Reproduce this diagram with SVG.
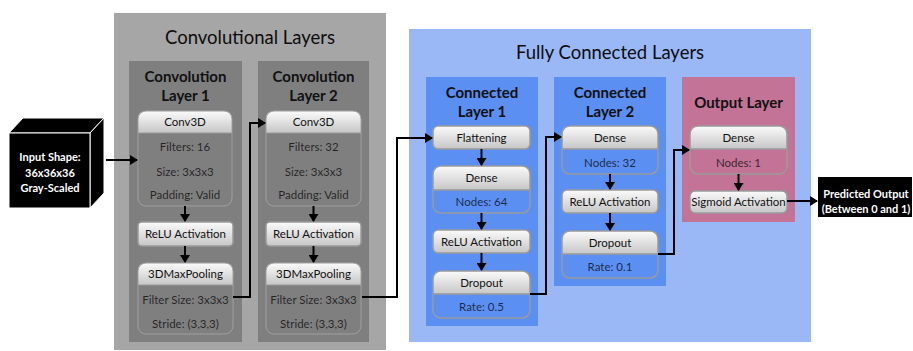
<svg xmlns="http://www.w3.org/2000/svg" width="913" height="351" viewBox="0 0 913 351">
<defs>
<linearGradient id="g" x1="0" y1="0" x2="0" y2="1">
<stop offset="0" stop-color="#fbfbfb"/>
<stop offset="1" stop-color="#c6c6c6"/>
</linearGradient>
<marker id="ah" viewBox="0 0 8 10" refX="7" refY="5" markerWidth="4" markerHeight="5" orient="auto" markerUnits="strokeWidth">
<path d="M0,0 L8,5 L0,10 z" fill="#000"/>
</marker>
</defs>
<style>
text{font-family:Lato,"Liberation Sans",sans-serif;text-anchor:middle}
.big{font-size:18.5px;fill:#0d0d0d}
.ttl{font-size:15px;font-weight:bold;fill:#111}
.h{font-size:11.5px;fill:#111}
.b{font-size:11.5px;fill:#000;fill-opacity:0.72}
.w{font-size:11px;font-weight:bold;fill:#fff}
.hdr{fill:url(#g);stroke:none}
.bx{fill:none;stroke:#9a9a9a;stroke-width:1.5}
.bxc{fill:none;stroke:#a0a0a0;stroke-width:1}
.sb{fill:url(#g);stroke:#9a9a9a;stroke-width:1.5}
.sep{stroke:#9a9a9a;stroke-width:1}
.c{fill:none;stroke:#000;stroke-width:2;marker-end:url(#ah)}
</style>

<g id="conv-panel">
<rect x="114" y="13" width="272" height="337" fill="#a6a6a6"/>
<text class="big" x="250" y="44">Convolutional Layers</text>
</g>
<g id="conv-layer-1">
<rect x="129" y="61" width="113" height="281" fill="#7f7f7f"/>
<text class="ttl" x="185.5" y="82">Convolution</text>
<text class="ttl" x="185.5" y="101">Layer 1</text>
</g>
<g id="conv-layer-2">
<rect x="258" y="61" width="111" height="281" fill="#7f7f7f"/>
<text class="ttl" x="313.5" y="82">Convolution</text>
<text class="ttl" x="313.5" y="101">Layer 2</text>
</g>

<g id="fc-panel">
<rect x="409" y="29" width="402" height="313" fill="#9ab8f6"/>
<text class="big" x="610" y="59">Fully Connected Layers</text>
</g>
<g id="connected-layer-1">
<rect x="426" y="77" width="112" height="249" fill="#5b8ff1"/>
<text class="ttl" x="482" y="98">Connected</text>
<text class="ttl" x="482" y="117">Layer 1</text>
</g>
<g id="connected-layer-2">
<rect x="554" y="77" width="112" height="209" fill="#5b8ff1"/>
<text class="ttl" x="610" y="98">Connected</text>
<text class="ttl" x="610" y="117">Layer 2</text>
</g>
<g id="output-layer">
<rect x="682" y="77" width="113" height="145" fill="#c27396"/>
<text class="ttl" x="738.5" y="108">Output Layer</text>
</g>

<g id="input">
<path d="M9,133 L23,118 L104,118 L90,133 Z" fill="#000" stroke="#fff" stroke-width="1"/>
<path d="M90,133 L104,118 L104,193 L90,208 Z" fill="#000" stroke="#fff" stroke-width="1"/>
<rect x="9" y="133" width="81" height="75" fill="#000" stroke="#fff" stroke-width="1"/>
<text class="w" x="50" y="161">Input Shape:</text>
<text class="w" x="50" y="176.5">36x36x36</text>
<text class="w" x="50" y="192">Gray-Scaled</text>
</g>

<g id="conv1-conv3d">
<path class="hdr" d="M138,133 V119 Q138,111 146,111 H224 Q232,111 232,119 V133 Z"/>
<line class="sep" x1="138" y1="133" x2="232" y2="133"/>
<rect class="bxc" x="138" y="111" width="94" height="95" rx="8"/>
<text class="h" x="185" y="126">Conv3D</text>
<text class="b" x="185" y="151">Filters: 16</text>
<text class="b" x="185" y="176">Size: 3x3x3</text>
<text class="b" x="185" y="199">Padding: Valid</text>
</g>
<g id="conv1-relu">
<rect class="sb" x="138" y="222" width="95" height="24" rx="4"/>
<text class="h" x="185.5" y="238">ReLU Activation</text>
</g>
<g id="conv1-pool">
<path class="hdr" d="M138,285 V271 Q138,263 146,263 H225 Q233,263 233,271 V285 Z"/>
<line class="sep" x1="138" y1="285" x2="233" y2="285"/>
<rect class="bxc" x="138" y="263" width="95" height="71" rx="8"/>
<text class="h" x="185.5" y="278">3DMaxPooling</text>
<text class="b" x="185.5" y="304">Filter Size: 3x3x3</text>
<text class="b" x="185.5" y="328">Stride: (3,3,3)</text>
</g>

<g id="conv2-conv3d">
<path class="hdr" d="M266,133 V119 Q266,111 274,111 H353 Q361,111 361,119 V133 Z"/>
<line class="sep" x1="266" y1="133" x2="361" y2="133"/>
<rect class="bxc" x="266" y="111" width="95" height="95" rx="8"/>
<text class="h" x="313.5" y="126">Conv3D</text>
<text class="b" x="313.5" y="151">Filters: 32</text>
<text class="b" x="313.5" y="176">Size: 3x3x3</text>
<text class="b" x="313.5" y="199">Padding: Valid</text>
</g>
<g id="conv2-relu">
<rect class="sb" x="266" y="222" width="95" height="24" rx="4"/>
<text class="h" x="313.5" y="238">ReLU Activation</text>
</g>
<g id="conv2-pool">
<path class="hdr" d="M266,285 V271 Q266,263 274,263 H353 Q361,263 361,271 V285 Z"/>
<line class="sep" x1="266" y1="285" x2="361" y2="285"/>
<rect class="bxc" x="266" y="263" width="95" height="71" rx="8"/>
<text class="h" x="313.5" y="278">3DMaxPooling</text>
<text class="b" x="313.5" y="304">Filter Size: 3x3x3</text>
<text class="b" x="313.5" y="328">Stride: (3,3,3)</text>
</g>

<g id="cl1-flatten">
<rect class="sb" x="433" y="126" width="97" height="23" rx="5"/>
<text class="h" x="481.5" y="141.5">Flattening</text>
</g>
<g id="cl1-dense">
<path class="hdr" d="M433,190 V174 Q433,166 441,166 H522 Q530,166 530,174 V190 Z"/>
<line class="bx" x1="433" y1="190" x2="530" y2="190"/>
<rect class="bx" x="433" y="166" width="97" height="47" rx="8"/>
<text class="h" x="481.5" y="182">Dense</text>
<text class="b" x="481.5" y="206">Nodes: 64</text>
</g>
<g id="cl1-relu">
<rect class="sb" x="433" y="230" width="97" height="23" rx="5"/>
<text class="h" x="481.5" y="245.5">ReLU Activation</text>
</g>
<g id="cl1-dropout">
<path class="hdr" d="M433,294 V279 Q433,271 441,271 H522 Q530,271 530,279 V294 Z"/>
<line class="bx" x1="433" y1="294" x2="530" y2="294"/>
<rect class="bx" x="433" y="271" width="97" height="47" rx="8"/>
<text class="h" x="481.5" y="286.5">Dropout</text>
<text class="b" x="481.5" y="311">Rate: 0.5</text>
</g>

<g id="cl2-dense">
<path class="hdr" d="M562,149 V134 Q562,126 570,126 H650 Q658,126 658,134 V149 Z"/>
<line class="bx" x1="562" y1="149" x2="658" y2="149"/>
<rect class="bx" x="562" y="126" width="96" height="48" rx="8"/>
<text class="h" x="610" y="141.5">Dense</text>
<text class="b" x="610" y="167">Nodes: 32</text>
</g>
<g id="cl2-relu">
<rect class="sb" x="562" y="190" width="96" height="23" rx="5"/>
<text class="h" x="610" y="205.5">ReLU Activation</text>
</g>
<g id="cl2-dropout">
<path class="hdr" d="M562,254 V239 Q562,231 570,231 H650 Q658,231 658,239 V254 Z"/>
<line class="bx" x1="562" y1="254" x2="658" y2="254"/>
<rect class="bx" x="562" y="231" width="96" height="47" rx="8"/>
<text class="h" x="610" y="246.5">Dropout</text>
<text class="b" x="610" y="271">Rate: 0.1</text>
</g>

<g id="out-dense">
<path class="hdr" d="M690,149 V134 Q690,126 698,126 H779 Q787,126 787,134 V149 Z"/>
<line class="bx" x1="690" y1="149" x2="787" y2="149"/>
<rect class="bx" x="690" y="126" width="97" height="48" rx="8"/>
<text class="h" x="738.5" y="141.5">Dense</text>
<text class="b" x="738.5" y="167">Nodes: 1</text>
</g>
<g id="out-sigmoid">
<rect class="sb" x="690" y="191" width="97" height="22" rx="5"/>
<text class="h" x="738.5" y="206">Sigmoid Activation</text>
</g>

<g id="prediction">
<rect x="818" y="177" width="94" height="40" fill="#000"/>
<text class="w" x="866" y="198">Predicted Output</text>
<text class="w" x="866" y="213">(Between 0 and 1)</text>
</g>

<g id="connectors">
<polyline class="c" points="106,160 137,160"/>
<polyline class="c" points="185,206 185,221"/>
<polyline class="c" points="185,246 185,262"/>
<polyline class="c" points="313.5,206 313.5,221"/>
<polyline class="c" points="313.5,246 313.5,262"/>
<polyline class="c" points="233,297 250,297 250,123 265,123"/>
<polyline class="c" points="362,297 397,297 397,138 432,138"/>
<polyline class="c" points="481.5,149 481.5,165"/>
<polyline class="c" points="481.5,213 481.5,229"/>
<polyline class="c" points="481.5,253 481.5,270"/>
<polyline class="c" points="530,294 546,294 546,137 561,137"/>
<polyline class="c" points="610,174 610,189"/>
<polyline class="c" points="610,213 610,230"/>
<polyline class="c" points="658,254 674,254 674,150 689,150"/>
<polyline class="c" points="738.5,174 738.5,190"/>
<polyline class="c" points="787,201 817,201"/>
</g>
</svg>
